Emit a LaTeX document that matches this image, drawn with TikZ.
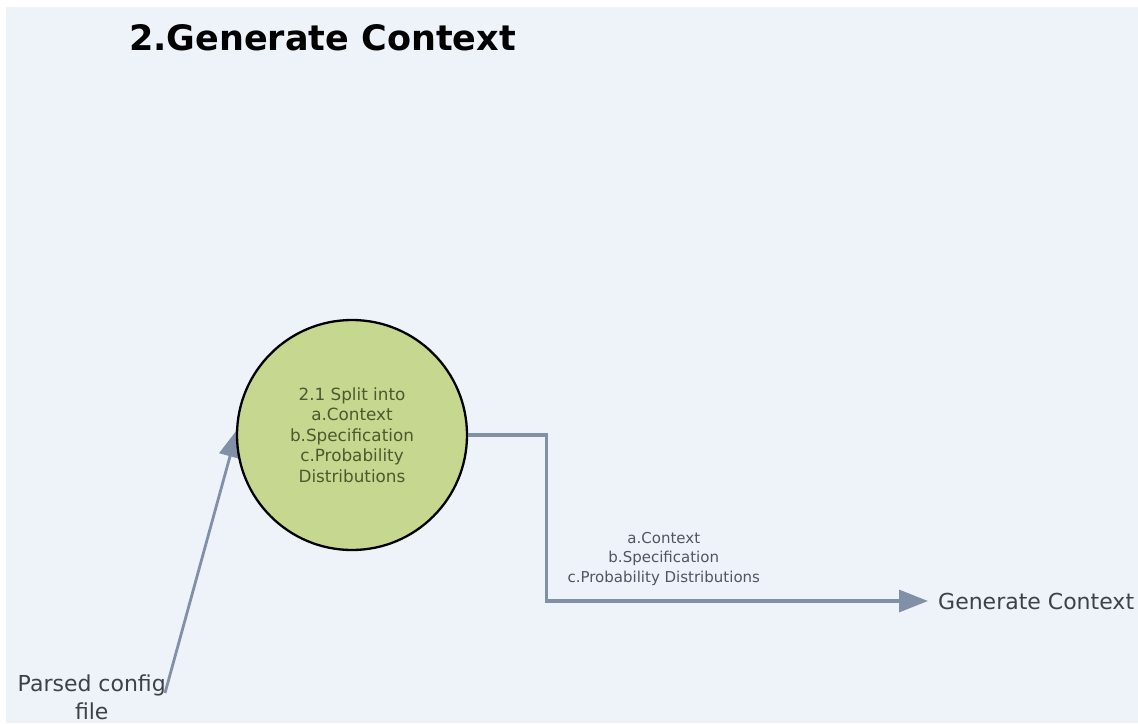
\documentclass[tikz,border=0pt]{standalone}
\usepackage{fontspec}
\setmainfont{DejaVu Sans}
\usetikzlibrary{arrows.meta,backgrounds}
\definecolor{canvas}{HTML}{EEF2F9}
\definecolor{procfill}{HTML}{C6D88F}
\definecolor{proctext}{HTML}{4B5A2E}
\definecolor{flow}{HTML}{8190A7}
\definecolor{labeltext}{HTML}{4F5660}
\definecolor{termtext}{HTML}{3E4248}
\tikzset{
  process/.style={circle, draw=black, line width=2.3pt, fill=procfill,
    minimum size=230pt, inner sep=0pt, text=proctext, align=center,
    font=\fontsize{16.8}{20.5}\selectfont},
  flowline/.style={draw=flow, line width=3.2pt,
    -{Triangle[length=29pt,width=22pt]}},
  inflow/.style={draw=flow, line width=2.8pt,
    -{Triangle[length=28pt,width=22pt]}},
  terminal/.style={text=termtext, font=\fontsize{22}{28}\selectfont,
    align=center, inner sep=0pt},
  flowlabel/.style={text=labeltext, align=center,
    font=\fontsize{15}{19.5}\selectfont, inner sep=0pt},
}
\begin{document}
\begin{tikzpicture}[x=1pt,y=-1pt]
  \useasboundingbox (0,0) rectangle (1138,723);
  \begin{scope}[on background layer]
    \fill[white] (0,0) rectangle (1138,723);
    \fill[canvas] (6,7) rectangle (1138,723);
  \end{scope}

  % heading
  \node[anchor=west, inner sep=0pt, font=\fontsize{35}{40}\selectfont\bfseries]
    (title) at (129,38) {2.Generate Context};

  % process bubble
  \node[process] (p) at (352,435)
    {2.1 Split into\\a.Context\\b.Specification\\c.Probability\\Distributions};

  % external entities
  \node[terminal, anchor=east] (src) at (166,697) {Parsed config\\file};
  \node[terminal, anchor=west, inner xsep=10pt] (dst) at (928,601) {Generate Context};
  \coordinate (srcend) at (165,693);

  % data flows (the inflow tip tucks under the bubble's rim)
  \begin{scope}[on background layer]
    \draw[inflow, shorten >=-6pt] (srcend) -- (p.west);
  \end{scope}
  \draw[flowline] (p.east) -- ++(78,0) |- (dst.west)
    node[flowlabel, pos=0.654, above=14pt]
      {a.Context\\b.Specification\\c.Probability Distributions};
\end{tikzpicture}
\end{document}
